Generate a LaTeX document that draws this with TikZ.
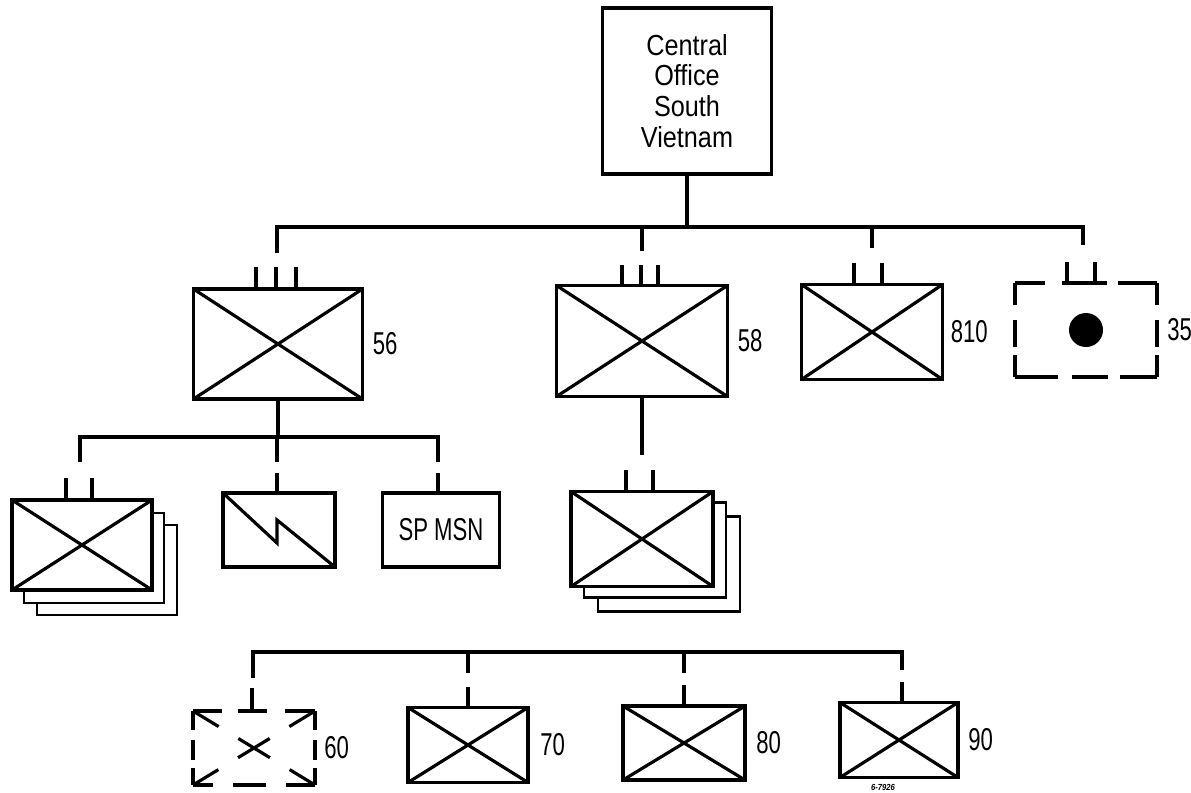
\documentclass[tikz,border=0pt]{standalone}
\usepackage{fontspec}
\setmainfont{Liberation Sans}[FakeStretch=0.87]
\newfontfamily\condfont{Liberation Sans}[FakeStretch=0.7]
\usetikzlibrary{positioning}

\tikzset{
  unitbox/.style={draw, line width=2.1pt, inner sep=0pt, outer sep=0pt, fill=white},
  backbox/.style={draw, line width=1.6pt, inner sep=0pt, outer sep=0pt, fill=white},
  ghostbox/.style={inner sep=0pt, outer sep=0pt},
  cross/.style={line width=1.8pt},
  link/.style={line width=2.1pt},
  numlabel/.style={inner sep=0pt, font=\condfont\fontsize{18}{18}\selectfont},
}

\begin{document}
\begin{tikzpicture}[x=0.02cm, y=-0.02cm]
\useasboundingbox (0,0) rectangle (1191,792);

% headquarters
\node[unitbox, minimum width=3.38cm, minimum height=3.32cm, align=center,
      font=\fontsize{16.5}{17.5}\selectfont] (central) at (687,91) {Central\\Office\\South\\Vietnam};

% second row
\node[unitbox, minimum width=3.38cm, minimum height=2.2cm] (b56) at (278,344) {};
\node[unitbox, minimum width=3.42cm, minimum height=2.22cm] (b58) at (642,341) {};
\node[unitbox, minimum width=2.82cm, minimum height=1.9cm] (b810) at (872,332) {};
\node[ghostbox, minimum width=2.84cm, minimum height=1.88cm] (b35) at (1086,330) {};
\node[circle, fill, inner sep=0pt, minimum size=0.68cm] (dot35) at (b35.center) {};

\draw[link, dash pattern=on 0.6cm off 0.34cm on 0.9cm off 0.22cm on 0.8cm] (b35.north west) -- (b35.north east);
\draw[link, dash pattern=on 0.86cm off 0.28cm on 0.72cm off 0.24cm on 0.74cm] (b35.south west) -- (b35.south east);
\draw[link, dash pattern=on 0.44cm off 0.3cm on 0.54cm off 0.16cm on 0.44cm] (b35.north west) -- (b35.south west);
\draw[link, dash pattern=on 0.44cm off 0.3cm on 0.54cm off 0.16cm on 0.44cm] (b35.north east) -- (b35.south east);

\node[numlabel, right=0.2cm of b56] (l56) {56};
\node[numlabel, right=0.2cm of b58] (l58) {58};
\node[numlabel, right=0.16cm of b810] (l810) {810};
\node[numlabel, right=0.2cm of b35] (l35) {35};

% size marks
\foreach \dx in {-22,-2,18} \draw[link] ([shift={(\dx,0)}]b56.north) -- ++(0,-22);
\foreach \dx in {-20,-1,16} \draw[link] ([shift={(\dx,0)}]b58.north) -- ++(0,-21);
\foreach \dx in {-18,10} \draw[link] ([shift={(\dx,0)}]b810.north) -- ++(0,-22);
\foreach \dx in {-19,9} \draw[link] ([shift={(\dx,0)}]b35.north) -- ++(0,-21);

% top bus
\coordinate (busL) at (277,227);
\coordinate (busR) at (1083,227);
\coordinate (d56) at (277,253);
\coordinate (d58) at (642,251);
\coordinate (d810) at (872,248);
\coordinate (d35) at (1083,245);
\draw[link] (central.south) -- (central.south |- busL);
\draw[link] (d56) -- (busL) -- (busR) -- (d35);
\draw[link] (d58) -- (d58 |- busL);
\draw[link] (d810) -- (d810 |- busL);

% under 56
\node[backbox, minimum width=2.8cm, minimum height=1.8cm] (s1c) at (107,570) {};
\node[backbox, minimum width=2.8cm, minimum height=1.8cm] (s1b) at (94,558) {};
\node[unitbox, minimum width=2.8cm, minimum height=1.8cm] (s1) at (82,545) {};
\node[unitbox, minimum width=2.24cm, minimum height=1.48cm] (sig) at (279,530) {};
\node[unitbox, minimum width=2.34cm, minimum height=1.48cm, font=\condfont\fontsize{18}{18}\selectfont] (spmsn) at (441,530) {SP MSN};

\draw[cross] (sig.north west) -- ([shift={(-2,13)}]sig.center) -- ([shift={(-2,-10)}]sig.center) -- (sig.south east);

\foreach \dx in {-16,10} \draw[link] ([shift={(\dx,0)}]s1.north) -- ++(0,-22);
\draw[link] ([shift={(-2,0)}]sig.north) -- ++(0,-20);
\draw[link] ([shift={(-3,0)}]spmsn.north) -- ++(0,-20);

\coordinate (bus2L) at (80,437);
\coordinate (bus2R) at (438,437);
\coordinate (e1) at (80,462);
\coordinate (e2) at (277,462);
\coordinate (e3) at (438,462);
\draw[link] (b56.south) -- (b56.south |- bus2L);
\draw[link] (e1) -- (bus2L) -- (bus2R) -- (e3);
\draw[link] (e2) -- (e2 |- bus2L);

% under 58
\node[backbox, minimum width=2.84cm, minimum height=1.9cm] (s2c) at (669,564) {};
\node[backbox, minimum width=2.84cm, minimum height=1.9cm] (s2b) at (655,550) {};
\node[unitbox, minimum width=2.84cm, minimum height=1.9cm] (s2) at (642,539) {};
\foreach \dx in {-16,11} \draw[link] ([shift={(\dx,0)}]s2.north) -- ++(0,-22);
\coordinate (e58) at (642,455);
\draw[link] (b58.south) -- (e58);

% bottom row
\node[ghostbox, minimum width=2.44cm, minimum height=1.48cm] (b60) at (254,748) {};
\node[unitbox, minimum width=2.4cm, minimum height=1.5cm] (b70) at (468,745) {};
\node[unitbox, minimum width=2.44cm, minimum height=1.48cm] (b80) at (684,743) {};
\node[unitbox, minimum width=2.36cm, minimum height=1.5cm] (b90) at (899,740) {};

\draw[link, dash pattern=on 0.58cm off 0.32cm on 0.58cm off 0.36cm on 0.6cm] (b60.north west) -- (b60.north east);
\draw[link, dash pattern=on 0.4cm off 0.4cm on 0.66cm off 0.4cm on 0.58cm] (b60.south west) -- (b60.south east);
\draw[link, dash pattern=on 0.38cm off 0.2cm on 0.4cm off 0.16cm on 0.34cm] (b60.north west) -- (b60.south west);
\draw[link, dash pattern=on 0.38cm off 0.2cm on 0.4cm off 0.16cm on 0.34cm] (b60.north east) -- (b60.south east);
\draw[cross, dash pattern=on 0.6cm off 0.46cm on 0.74cm off 0.46cm on 0.6cm]
  (b60.north west) -- (b60.south east) (b60.north east) -- (b60.south west);

\foreach \b in {b56,b58,b810,s1,s2,b70,b80,b90}
  \draw[cross] (\b.north west) -- (\b.south east) (\b.north east) -- (\b.south west);

\node[numlabel, right=0.18cm of b60] (l60) {60};
\node[numlabel, right=0.24cm of b70] (l70) {70};
\node[numlabel, right=0.22cm of b80] (l80) {80};
\node[numlabel, right=0.2cm of b90] (l90) {90};

\coordinate (bus3L) at (253,652);
\coordinate (bus3R) at (902,652);
\coordinate (f60) at (253,678);
\coordinate (f70) at (468,673);
\coordinate (f80) at (684,673);
\coordinate (f90) at (902,670);
\draw[link] (f60) -- (bus3L) -- (bus3R) -- (f90);
\draw[link] (f70) -- (f70 |- bus3L);
\draw[link] (f80) -- (f80 |- bus3L);

\draw[link] ([shift={(-2,0)}]b60.north) -- ++(0,-23);
\draw[link] (b70.north) -- ++(0,-21);
\draw[link] (b80.north) -- ++(0,-21);
\draw[link] ([shift={(3,0)}]b90.north) -- ++(0,-21);

\node[inner sep=0pt, font=\fontsize{5}{5}\selectfont\bfseries\itshape] (stamp) at (883,787) {6-7926};
\end{tikzpicture}
\end{document}
